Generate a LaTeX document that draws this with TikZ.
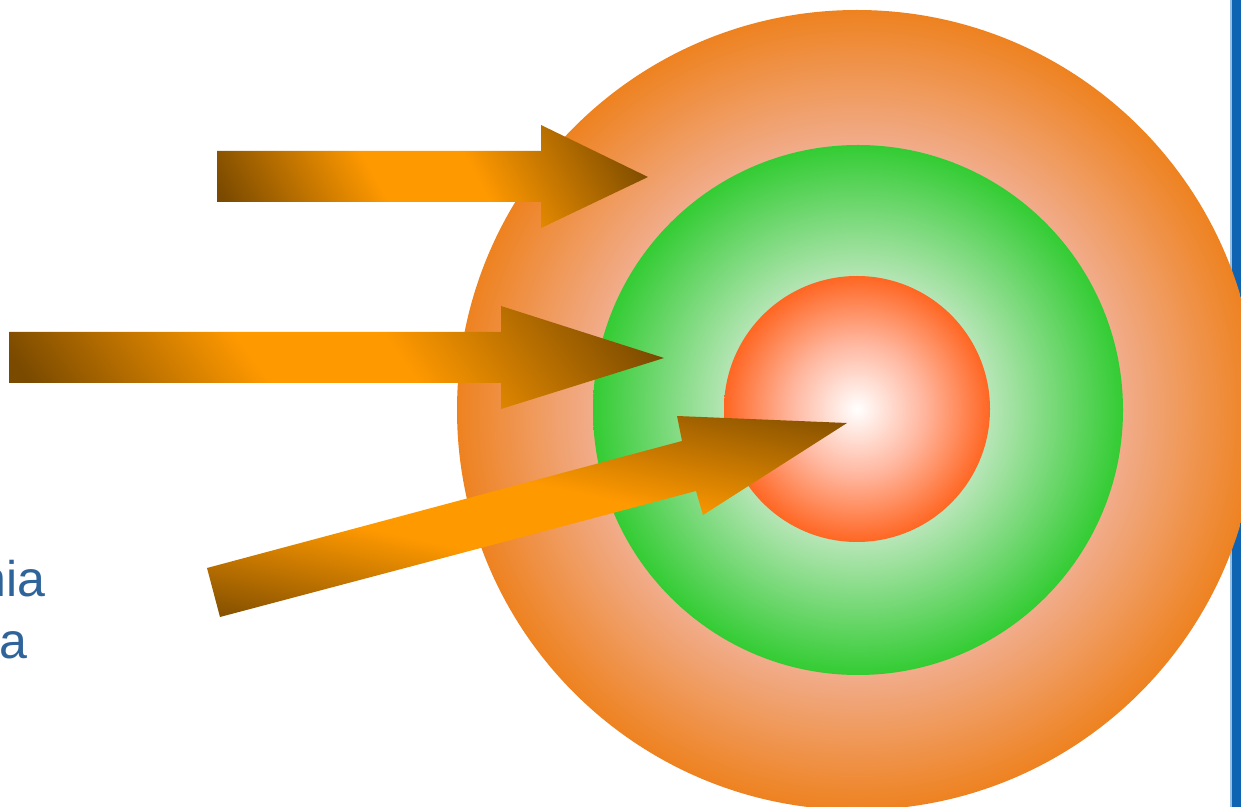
\documentclass[tikz,border=0pt]{standalone}
\usepackage{fontspec}
\setmainfont{Liberation Sans}
\usetikzlibrary{shadings}
\definecolor{orEdge}{RGB}{238,130,32}
\definecolor{orIn}{RGB}{241,172,138}
\definecolor{grEdge}{RGB}{51,204,51}
\definecolor{grIn}{RGB}{182,229,182}
\definecolor{rdEdge}{RGB}{255,102,34}
\definecolor{rdMid}{RGB}{255,182,158}
\definecolor{arrOrange}{RGB}{255,153,0}
\definecolor{arrBrown}{RGB}{122,74,0}
\definecolor{lineBlue}{RGB}{14,100,178}
\definecolor{lineLight}{RGB}{150,190,225}
\definecolor{textBlue}{RGB}{47,100,155}
\pgfdeclareradialshading{outerball}{\pgfpoint{0bp}{0bp}}{color(0bp)=(white); color(16.6bp)=(orIn); color(25bp)=(orEdge); color(50bp)=(orEdge)}
\pgfdeclareradialshading{greenball}{\pgfpoint{0bp}{0bp}}{color(0bp)=(white); color(12.5bp)=(grIn); color(25bp)=(grEdge); color(50bp)=(grEdge)}
\pgfdeclareradialshading{redball}{\pgfpoint{0bp}{0bp}}{color(0bp)=(white); color(12.5bp)=(rdMid); color(25bp)=(rdEdge); color(50bp)=(rdEdge)}
\pgfdeclareverticalshading{arrowgrad}{100bp}{color(0bp)=(arrBrown); color(19bp)=(arrBrown); color(42bp)=(arrOrange); color(56bp)=(arrOrange); color(81bp)=(arrBrown); color(100bp)=(arrBrown)}
\begin{document}
\begin{tikzpicture}[x=0.2mm,y=-0.2mm,
  arrowshade/.style={shading=arrowgrad},
  txt/.style={font=\fontsize{28.5}{34}\selectfont, text=textBlue, inner sep=0pt}]
\useasboundingbox (0,0) rectangle (1241,807);
\fill[white] (0,0) rectangle (1241,807);
% right blue rule
\fill[lineLight] (1230,0) rectangle (1233,807);
\fill[lineBlue] (1232,0) rectangle (1241,807);
% target rings
\shade[shading=outerball] (857,410) circle (400);
\shade[shading=greenball] (858,410) circle (265);
\shade[shading=redball] (857,409) circle (133);
% arrows
\shade[arrowshade, shading angle=-61] (217,151) -- (541,151) -- (541,125) -- (648,177) -- (541,228) -- (541,202) -- (217,202) -- cycle;
\shade[arrowshade, shading angle=-54] (9,332) -- (501,332) -- (501,306) -- (664,358) -- (501,409) -- (501,383) -- (9,383) -- cycle;
\shade[arrowshade, shading angle=-12] (207,568) -- (682,441) -- (677,416) -- (847,423) -- (703,515) -- (696,491) -- (220,617) -- cycle;
% cut-off text
\node[txt, anchor=base east] (t1) at (46,597) {nia};
\node[txt, anchor=base east] (t2) at (28,659) {a};
\end{tikzpicture}
\end{document}
